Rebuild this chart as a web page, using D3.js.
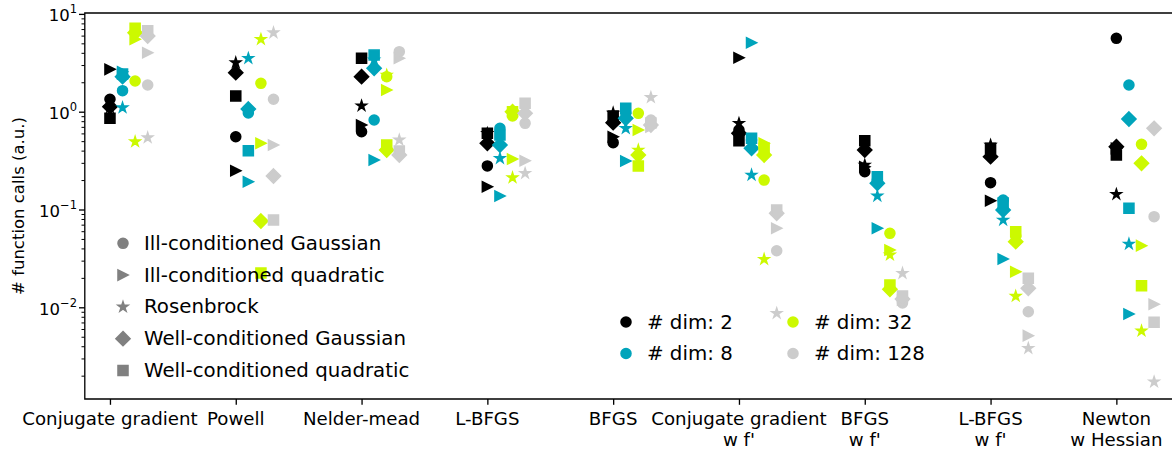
<!DOCTYPE html>
<html>
<head>
<meta charset="utf-8">
<title>Optimizer comparison</title>
<script src="https://d3js.org/d3.v7.min.js"></script>
<style>
  body { margin: 0; background: #fff; }
  svg { display: block; font-family: "DejaVu Sans", sans-serif; }
</style>
</head>
<body>
<svg width="1172" height="450"></svg>
<script>
// methods along the x axis
var methods = ["Conjugate gradient", "Powell", "Nelder-mead", "L-BFGS", "BFGS",
               "Conjugate gradient\nw f'", "BFGS\nw f'", "L-BFGS\nw f'", "Newton\nw Hessian"];
var dims = [2, 8, 32, 128];
var dimColors = ["#000000", "#00a4bb", "#ccf900", "#cccccc"];
var costNames = ["Ill-conditioned Gaussian", "Ill-conditioned quadratic", "Rosenbrock",
                 "Well-conditioned Gaussian", "Well-conditioned quadratic"];
var costSymbols = ["o", ">", "*", "D", "s"];
var yMajorTicks = [0.01, 0.1, 1, 10];
var yTickExp = ["\u22122", "\u22121", "0", "1"];

// function calls (a.u.) -- rows: dim 2, 8, 32, 128 ; columns: methods
var illGaussian = [
  [1.34, 0.555, 0.624, 0.279, 0.482, 0.65, 0.243, 0.188, 5.63],
  [1.64, 0.97, 0.822, 0.676, 0.963, 0.514, 0.2, 0.125, 1.875],
  [2.06, 1.95, 2.28, 0.904, 0.963, 0.2, 0.0571, 0.0536, 0.464],
  [1.875, 1.34, 4.11, 0.761, 0.822, 0.0379, 0.0111, 0.009, 0.0844]
];
var illQuadratic = [
  [2.71, 0.249, 0.731, 0.171, 0.555, 3.565, 0.274, 0.123, 0.422],
  [2.56, 0.192, 0.321, 0.1375, 0.313, 5.08, 0.0643, 0.0312, 0.00854],
  [5.5, 0.475, 1.667, 0.328, 0.65, 0.475, 0.0385, 0.0231, 0.0427],
  [4.01, 0.4565, 3.516, 0.3155, 0.698, 0.0643, 0.0119, 0.00513, 0.01074]
];
var rosenbrock = [
  [1.10, 3.17, 1.15, 0.6, 0.97, 0.761, 0.285, 0.4565, 0.143],
  [1.10, 3.516, 3.38, 0.334, 0.676, 0.2254, 0.1375, 0.078, 0.0444],
  [0.4933, 5.5, 2.37, 0.2115, 0.406, 0.031, 0.0343, 0.013, 0.00573],
  [0.542, 6.42, 0.514, 0.2345, 1.40, 0.00868, 0.0223, 0.00381, 0.00173]
];
var wellGaussian = [
  [1.125, 2.505, 2.28, 0.475, 0.772, 0.601, 0.406, 0.3467, 0.4386],
  [2.28, 1.066, 2.78, 0.4565, 0.856, 0.422, 0.1853, 0.0988, 0.842],
  [6.42, 0.0763, 0.406, 1.0, 0.361, 0.361, 0.01528, 0.0469, 0.2967],
  [5.94, 0.22, 0.361, 0.963, 0.731, 0.0915, 0.01216, 0.01564, 0.676]
];
var wellQuadratic = [
  [0.856, 1.447, 3.516, 0.601, 0.904, 0.505, 0.505, 0.422, 0.361],
  [2.43, 0.399, 3.80, 0.578, 1.083, 0.535, 0.2165, 0.1165, 0.1029],
  [7.13, 0.0224, 0.4565, 1.0, 0.279, 0.422, 0.0169, 0.0593, 0.01663],
  [6.73, 0.078, 0.396, 1.22, 0.766, 0.0988, 0.01303, 0.0198, 0.00703]
];
var costData = [illGaussian, illQuadratic, rosenbrock, wellGaussian, wellQuadratic];

var plotLeft = 84.8, plotTop = 13, plotBottom = 399;
var pxPerUnit = 125.8;

var svg = d3.select("svg");

var x = d3.scaleLinear()
    .domain([-0.2, 8.5])
    .range([plotLeft, plotLeft + 8.7 * pxPerUnit]);

var y = d3.scaleLog()
    .domain([Math.pow(10, -2.9376), Math.pow(10, 1.0092)])
    .range([plotBottom, plotTop]);

// matplotlib-like marker shapes (size in px)
var ms = 9.9, mew = 1.65;
function markerPath(k) {
  var h = ms / 2;
  if (k == "o") return "M" + h + ",0A" + h + "," + h + " 0 1,1 " + (-h) + ",0A" + h + "," + h + " 0 1,1 " + h + ",0Z";
  if (k == ">") return "M" + h + ",0L" + (-h) + "," + (-h) + "L" + (-h) + "," + h + "Z";
  if (k == "s") return "M" + (-h) + "," + (-h) + "H" + h + "V" + h + "H" + (-h) + "Z";
  if (k == "D") { var d = h * Math.SQRT2; return "M0," + (-d) + "L" + d + ",0L0," + d + "L" + (-d) + ",0Z"; }
  // star
  var pts = [];
  for (var i = 0; i < 10; i++) {
    var r = (i % 2 == 0) ? h : h * 0.381966;
    var a = -Math.PI / 2 + i * Math.PI / 5;
    pts.push([r * Math.cos(a), r * Math.sin(a)]);
  }
  return "M" + pts.map(function(p) { return p[0].toFixed(2) + "," + p[1].toFixed(2); }).join("L") + "Z";
}

// points: same order as the plotting loops (dim, then cost, then method)
var points = [];
dims.forEach(function(dim, di) {
  costData.forEach(function(arr, ci) {
    methods.forEach(function(m, mi) {
      points.push({ xv: mi + 0.1 * di, yv: arr[di][mi], sym: costSymbols[ci], color: dimColors[di] });
    });
  });
});

svg.append("g").attr("class", "points")
  .selectAll("path")
  .data(points)
  .enter().append("path")
    .attr("transform", function(d) { return "translate(" + x(d.xv) + "," + y(d.yv) + ")"; })
    .attr("d", function(d) { return markerPath(d.sym); })
    .attr("fill", function(d) { return d.color; })
    .attr("stroke", function(d) { return d.color; })
    .attr("stroke-width", mew)
    .attr("stroke-linejoin", "miter");

// y axis: major and minor ticks
var minorTicks = [];
[-3, -2, -1, 0].forEach(function(e) {
  for (var k = 2; k <= 9; k++) {
    var v = k * Math.pow(10, e);
    if (v >= y.domain()[0] && v <= y.domain()[1]) minorTicks.push(v);
  }
});

svg.append("g")
    .attr("transform", "translate(" + plotLeft + ",0)")
    .call(d3.axisLeft(y).tickValues(minorTicks).tickSize(3.3).tickFormat(""))
    .call(function(g) { g.select(".domain").remove(); g.selectAll("line").attr("stroke-width", 1); });

var yMajor = svg.append("g")
    .attr("transform", "translate(" + plotLeft + ",0)")
    .call(d3.axisLeft(y).tickValues(yMajorTicks).tickSize(5.8).tickFormat(""));
yMajor.select(".domain").remove();
yMajor.selectAll("line").attr("stroke-width", 1.32);

yMajorTicks.forEach(function(v, i) {
  var t = svg.append("text")
      .attr("x", 77)
      .attr("y", y(v) + 7.5)
      .attr("text-anchor", "end")
      .attr("font-size", "16.5px")
      .attr("fill", "#000");
  t.append("tspan").text("10");
  t.append("tspan").attr("dy", -8).attr("font-size", "11.5px").text(yTickExp[i]);
});

// x axis ticks and labels
var xAxis = svg.append("g")
    .attr("transform", "translate(0," + plotBottom + ")")
    .call(d3.axisBottom(x).tickValues(d3.range(methods.length)).tickSize(5.8).tickFormat(""));
xAxis.select(".domain").remove();
xAxis.selectAll("line").attr("stroke-width", 1.32);

methods.forEach(function(m, i) {
  var t = svg.append("text")
      .attr("text-anchor", "middle")
      .attr("font-size", "18.2px")
      .attr("fill", "#000");
  m.split("\n").forEach(function(line, j) {
    t.append("tspan").attr("x", x(i)).attr("y", 425 + j * 21).text(line);
  });
});

// spines
svg.append("path")
    .attr("d", "M" + plotLeft + "," + plotTop + "V" + plotBottom + "H" + x(8.5) + "V" + plotTop + "Z")
    .attr("fill", "none")
    .attr("stroke", "#000")
    .attr("stroke-width", 1.32);

// y label
svg.append("text")
    .attr("transform", "translate(18," + ((plotTop + plotBottom) / 2) + ") rotate(-90)")
    .attr("text-anchor", "middle")
    .attr("dominant-baseline", "central")
    .attr("font-size", "16.5px")
    .text("# function calls (a.u.)");

// legend for problem type
var leg1 = svg.append("g");
costNames.forEach(function(name, i) {
  var yy = 243.3 + i * 31.8;
  leg1.append("path")
      .attr("transform", "translate(123," + yy + ")")
      .attr("d", markerPath(costSymbols[i]))
      .attr("fill", "#808080").attr("stroke", "#808080").attr("stroke-width", mew);
  leg1.append("text")
      .attr("x", 144).attr("y", yy)
      .attr("dominant-baseline", "central")
      .attr("font-size", "19.8px")
      .text(name);
});

// legend for dimensionality
var leg2 = svg.append("g");
dims.forEach(function(dim, i) {
  var col = Math.floor(i / 2), row = i % 2;
  var mx = 626 + col * 167, yy = 322 + row * 31.5;
  leg2.append("path")
      .attr("transform", "translate(" + mx + "," + yy + ")")
      .attr("d", markerPath("o"))
      .attr("fill", dimColors[i]).attr("stroke", dimColors[i]).attr("stroke-width", mew);
  leg2.append("text")
      .attr("x", mx + 21).attr("y", yy)
      .attr("dominant-baseline", "central")
      .attr("font-size", "19.8px")
      .text("# dim: " + dim);
});
</script>
</body>
</html>
